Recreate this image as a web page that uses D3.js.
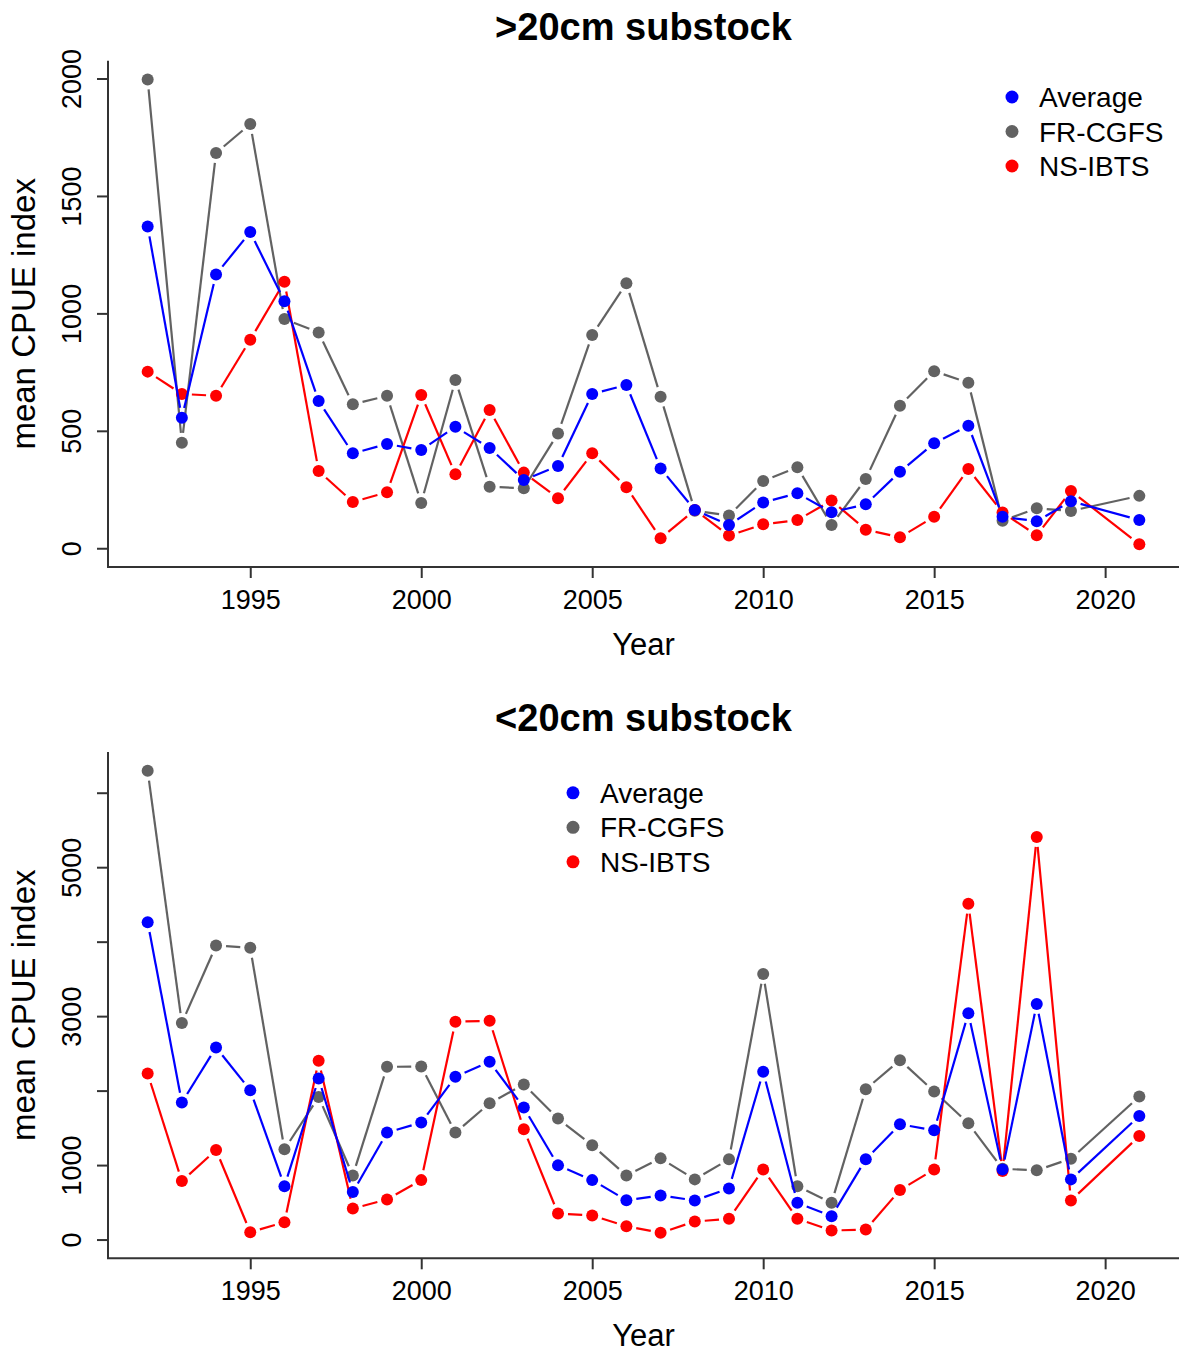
<!DOCTYPE html>
<html>
<head>
<meta charset="utf-8">
<script src="https://cdn.jsdelivr.net/npm/d3@7"></script>
<style>
body { margin: 0; background: #fff; }
text { font-family: "Liberation Sans", Arial, Helvetica, sans-serif; fill: #000; }
</style>
</head>
<body>
<svg id="chart" width="1183" height="1354"></svg>
<script>
"use strict"

//
// data (2020 has no survey value)
//
var years = [1992, 1993, 1994, 1995, 1996, 1997, 1998, 1999, 2000, 2001, 2002, 2003, 2004, 2005,
	2006, 2007, 2008, 2009, 2010, 2011, 2012, 2013, 2014, 2015, 2016, 2017, 2018, 2019, 2021];
var seriesNames = ["Average", "FR-CGFS", "NS-IBTS"];

var bigAverage = [1370, 556, 1166, 1346, 1052, 627, 404, 444, 418, 517, 427, 291, 350, 657,
	695, 340, 163, 99, 195, 234, 153, 187, 326, 447, 522, 134, 115, 200, 120];
var bigFrCgfs = [1996, 449, 1683, 1806, 976, 919, 613, 649, 193, 716, 262, 255, 489, 908,
	1128, 645, 160, 139, 286, 345, 99, 295, 607, 754, 705, 117, 170, 159, 223];
var bigNsIbts = [752, 657, 649, 888, 1135, 329, 197, 238, 652, 315, 589, 322, 213, 404,
	260, 43, 163, 54, 102, 120, 203, 79, 47, 134, 337, 152, 55, 244, 17];

var smallAverage = [4262, 1840, 2580, 2005, 717, 2163, 637, 1436, 1571, 2185, 2387, 1772, 996, 798,
	529, 592, 525, 686, 2252, 494, 314, 1077, 1548, 1467, 3038, 942, 3163, 808, 1660];
var smallFrCgfs = [6295, 2907, 3948, 3917, 1211, 1915, 861, 2319, 2324, 1436, 1830, 2082, 1624, 1265,
	861, 1090, 808, 1077, 3567, 717, 494, 2019, 2409, 1988, 1561, 950, 929, 1086, 1921];
var smallNsIbts = [2230, 785, 1202, 98, 233, 2400, 417, 538, 798, 2925, 2938, 1480, 350, 323,
	179, 90, 242, 279, 942, 279, 121, 135, 664, 942, 4509, 919, 5406, 525, 1390];

var xTicks = [1995, 2000, 2005, 2010, 2015, 2020];
var bigYTicks = [0, 500, 1000, 1500, 2000];
var bigYLabels = ["0", "500", "1000", "1500", "2000"];
var smallYTicks = [0, 1000, 2000, 3000, 4000, 5000, 6000];
var smallYLabels = ["0", "1000", "", "3000", "", "5000", ""];

var COLORS = {"Average": "#0000ff", "FR-CGFS": "#626262", "NS-IBTS": "#ff0000"};
var DRAW_ORDER = ["FR-CGFS", "NS-IBTS", "Average"];

var LEFT = 108, RIGHT = 1179;
var POINT_R = 6;
var GAP = 10;

//
// one panel of the figure
//
function CpuePanel(svg, cfg) {
	this.svg = svg;
	this.cfg = cfg;
	this.top = cfg.top;
	this.plotTop = cfg.top + 60.7;
	this.plotBottom = cfg.top + 567;
	this.create();
}

CpuePanel.prototype.create = function() {
	var cfg = this.cfg;
	var xPad = (d3.max(years) - d3.min(years)) * 0.04;
	this.x = d3.scaleLinear()
		.domain([d3.min(years) - xPad, d3.max(years) + xPad])
		.range([LEFT, RIGHT]);
	var yMax = d3.max(DRAW_ORDER, function(k) { return d3.max(cfg.values[k]); });
	var yPad = yMax * 0.04;
	this.y = d3.scaleLinear()
		.domain([-yPad, yMax + yPad])
		.range([this.plotBottom, this.plotTop]);
	this.g = this.svg.append("g").attr("class", "panel");
	this.drawAxes();
	this.drawSeries();
	this.drawLegend();
}

CpuePanel.prototype.drawAxes = function() {
	var g = this.g, cfg = this.cfg;
	// L shaped box
	g.append("path")
		.attr("d", "M" + LEFT + "," + this.plotTop + "V" + this.plotBottom + "H" + RIGHT)
		.attr("fill", "none")
		.attr("stroke", "#333")
		.attr("stroke-width", 2)
		;
	var xAxis = g.append("g")
		.attr("transform", "translate(0," + this.plotBottom + ")")
		.call(d3.axisBottom(this.x).tickValues(xTicks).tickSize(11).tickFormat(d3.format("d")));
	xAxis.select(".domain").remove();
	xAxis.selectAll("line").attr("stroke", "#333").attr("stroke-width", 2);
	xAxis.selectAll("text")
		.attr("y", 42).attr("dy", 0)
		.attr("fill", "#000")
		.style("font-size", "27px")
		;
	var yAxis = g.append("g")
		.attr("transform", "translate(" + LEFT + ",0)")
		.call(d3.axisLeft(this.y).tickValues(cfg.yTicks).tickSize(11)
			.tickFormat(function(d, i) { return cfg.yLabels[i]; }));
	yAxis.select(".domain").remove();
	yAxis.selectAll("line").attr("stroke", "#333").attr("stroke-width", 2);
	yAxis.selectAll("text")
		.attr("x", 0).attr("y", -27).attr("dy", 0)
		.attr("transform", "rotate(-90)")
		.attr("text-anchor", "middle")
		.attr("fill", "#000")
		.style("font-size", "27px")
		;
	// titles
	var cx = (LEFT + RIGHT) / 2;
	g.append("text")
		.attr("x", cx).attr("y", this.top + 40)
		.attr("text-anchor", "middle")
		.style("font-size", "38px").style("font-weight", "bold")
		.text(cfg.title);
	g.append("text")
		.attr("x", cx).attr("y", this.top + 655)
		.attr("text-anchor", "middle")
		.style("font-size", "31px")
		.text("Year");
	var cy = (this.plotTop + this.plotBottom) / 2;
	g.append("text")
		.attr("transform", "translate(35," + cy + ") rotate(-90)")
		.attr("text-anchor", "middle")
		.style("font-size", "33px")
		.text("mean CPUE index");
}

// like R type = "b": segments stop short of each point
CpuePanel.prototype.drawSeries = function() {
	var m_this = this, cfg = this.cfg;
	DRAW_ORDER.forEach(function(name) {
		var pts = years.map(function(yr, i) {
			return [m_this.x(yr), m_this.y(cfg.values[name][i])];
		});
		var segs = [];
		for (var i = 1; i < pts.length; i++) {
			var dx = pts[i][0] - pts[i-1][0], dy = pts[i][1] - pts[i-1][1];
			var len = Math.sqrt(dx * dx + dy * dy);
			if (len <= 2 * GAP) continue;
			var ux = dx / len, uy = dy / len;
			segs.push([pts[i-1][0] + ux * GAP, pts[i-1][1] + uy * GAP,
				pts[i][0] - ux * GAP, pts[i][1] - uy * GAP]);
		}
		var sg = m_this.g.append("g").attr("class", "series");
		sg.selectAll("line").data(segs).enter().append("line")
			.attr("x1", function(d) { return d[0]; })
			.attr("y1", function(d) { return d[1]; })
			.attr("x2", function(d) { return d[2]; })
			.attr("y2", function(d) { return d[3]; })
			.attr("stroke", COLORS[name])
			.attr("stroke-width", 2.2)
			;
		sg.selectAll("circle").data(pts).enter().append("circle")
			.attr("cx", function(d) { return d[0]; })
			.attr("cy", function(d) { return d[1]; })
			.attr("r", POINT_R)
			.attr("fill", COLORS[name])
			;
	});
}

CpuePanel.prototype.drawLegend = function() {
	var cfg = this.cfg;
	var lg = this.g.append("g")
		.attr("transform", "translate(" + cfg.legendX + "," + (this.top + cfg.legendY) + ")");
	var rows = lg.selectAll("g").data(seriesNames).enter().append("g")
		.attr("transform", function(d, i) { return "translate(0," + (i * 34.5) + ")"; });
	rows.append("circle")
		.attr("r", 6.5)
		.attr("fill", function(d) { return COLORS[d]; });
	rows.append("text")
		.attr("x", 27).attr("y", 10)
		.style("font-size", "28px")
		.text(function(d) { return d; });
}

////////////////////////////////////////////////////////////////////

var svg = d3.select("#chart");
svg.append("rect").attr("width", 1183).attr("height", 1354).attr("fill", "#fff");

new CpuePanel(svg, {
	title: ">20cm substock",
	top: 0,
	values: {"Average": bigAverage, "FR-CGFS": bigFrCgfs, "NS-IBTS": bigNsIbts},
	yTicks: bigYTicks,
	yLabels: bigYLabels,
	legendX: 1012,
	legendY: 97
});
new CpuePanel(svg, {
	title: "<20cm substock",
	top: 691.3,
	values: {"Average": smallAverage, "FR-CGFS": smallFrCgfs, "NS-IBTS": smallNsIbts},
	yTicks: smallYTicks,
	yLabels: smallYLabels,
	legendX: 573,
	legendY: 101.5
});
</script>
</body>
</html>
